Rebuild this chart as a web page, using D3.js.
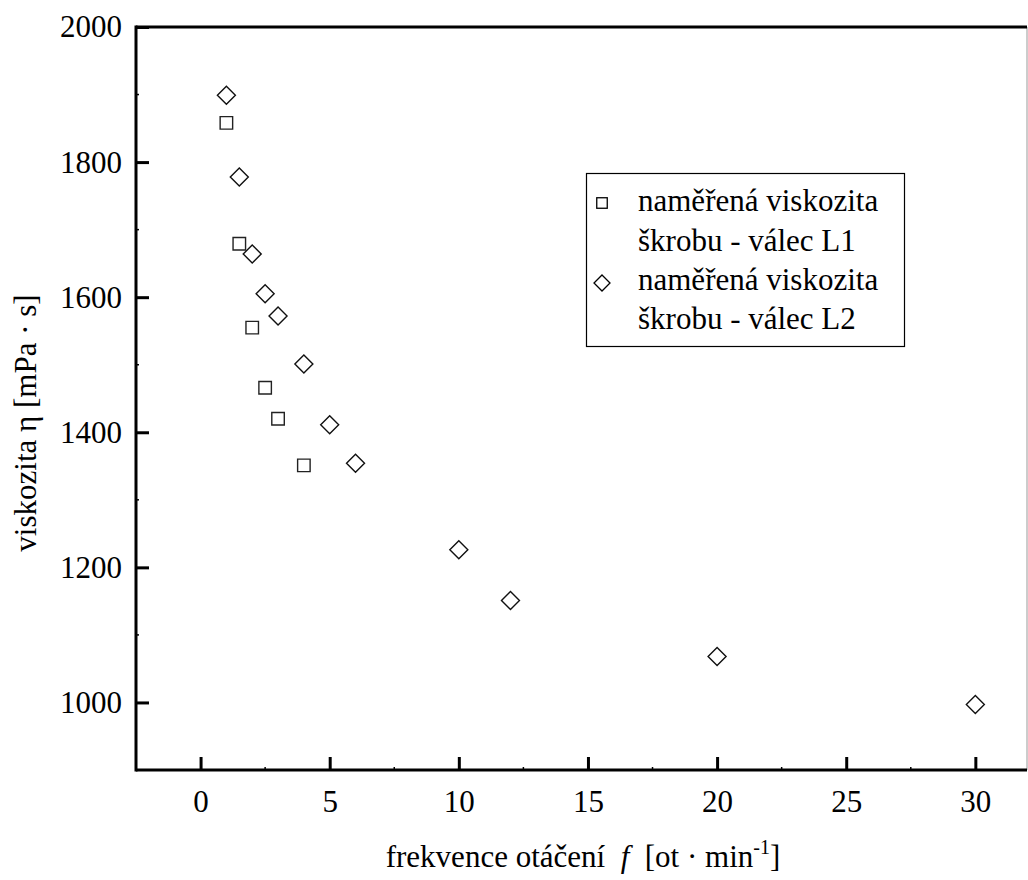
<!DOCTYPE html>
<html><head><meta charset="utf-8">
<script src="https://cdn.jsdelivr.net/npm/d3@7"></script>
<style>body{margin:0;background:#fff}svg{display:block}text{font-family:"Liberation Serif","Times New Roman",serif;fill:#000}</style>
</head><body><svg id="c" width="1028" height="880"></svg>
<script>
const xL1 = [1, 1.5, 2, 2.5, 3, 4];
const yL1 = [1858, 1679, 1555, 1466, 1420, 1351];
const xL2 = [1, 1.5, 2, 2.5, 3, 4, 5, 6, 10, 12, 20, 30];
const yL2 = [1899, 1778, 1664, 1605, 1572, 1501, 1411, 1354, 1226, 1151, 1068, 997];
const xTicks = [0, 5, 10, 15, 20, 25, 30];
const yTicks = [1000, 1200, 1400, 1600, 1800, 2000];
const legendLabels = [["naměřená viskozita", "škrobu - válec L1"], ["naměřená viskozita", "škrobu - válec L2"]];

const svg = d3.select("#c");
const L = 136, R = 1027, T = 27, B = 770;
const x = d3.scaleLinear().domain([-2.5, 32]).range([L, R]);
const y = d3.scaleLinear().domain([900, 2000]).range([B, T]);
const fs = 31;

// minor ticks
const xMinor = d3.range(-2.5, 32, 2.5).filter(v => !xTicks.includes(v));
const yMinor = d3.range(900, 2001, 100).filter(v => !yTicks.includes(v));
svg.append("g").selectAll("line").data(xMinor).join("line")
  .attr("x1", d => x(d)).attr("x2", d => x(d)).attr("y1", B).attr("y2", B - 3)
  .attr("stroke", "#000").attr("stroke-width", 1.5);
svg.append("g").selectAll("line").data(yMinor).join("line")
  .attr("y1", d => y(d)).attr("y2", d => y(d)).attr("x1", L).attr("x2", L + 3)
  .attr("stroke", "#000").attr("stroke-width", 1.5);

// x axis
const gx = svg.append("g").attr("transform", `translate(0,${B})`)
  .call(d3.axisBottom(x).tickValues(xTicks).tickFormat(d3.format("d")).tickSizeInner(-13).tickSizeOuter(0).tickPadding(20));
gx.select(".domain").remove();
gx.selectAll(".tick line").attr("stroke", "#000").attr("stroke-width", 3);
gx.selectAll(".tick text").attr("font-size", fs).attr("fill", "#000");

// y axis
const gy = svg.append("g").attr("transform", `translate(${L},0)`)
  .call(d3.axisLeft(y).tickValues(yTicks).tickFormat(d3.format("d")).tickSizeInner(-13).tickSizeOuter(0).tickPadding(14));
gy.select(".domain").remove();
gy.selectAll(".tick line").attr("stroke", "#000").attr("stroke-width", 3);
gy.selectAll(".tick text").attr("font-size", fs).attr("fill", "#000");

// frame
svg.append("line").attr("x1", R).attr("x2", R).attr("y1", T).attr("y2", B).attr("stroke", "#999").attr("stroke-width", 1);
svg.append("line").attr("x1", L).attr("x2", R).attr("y1", T).attr("y2", T).attr("stroke", "#000").attr("stroke-width", 3);
svg.append("line").attr("x1", L).attr("x2", R).attr("y1", B).attr("y2", B).attr("stroke", "#000").attr("stroke-width", 3);
svg.append("line").attr("x1", L).attr("x2", L).attr("y1", T - 1.5).attr("y2", B + 1.5).attr("stroke", "#000").attr("stroke-width", 3);

const sq = 12.5, dm = 9;
const sqPath = (cx, cy) => `M${cx - sq / 2},${cy - sq / 2}h${sq}v${sq}h${-sq}Z`;
const dmPath = (cx, cy) => `M${cx},${cy - dm}L${cx + dm},${cy}L${cx},${cy + dm}L${cx - dm},${cy}Z`;

svg.append("g").selectAll("path").data(xL1.map((v, i) => [v, yL1[i]])).join("path")
  .attr("d", d => sqPath(x(d[0]), y(d[1]))).attr("fill", "none").attr("stroke", "#222").attr("stroke-width", 1.4);
svg.append("g").selectAll("path").data(xL2.map((v, i) => [v, yL2[i]])).join("path")
  .attr("d", d => dmPath(x(d[0]), y(d[1]))).attr("fill", "none").attr("stroke", "#111").attr("stroke-width", 1.4);

// legend
const lg = svg.append("g");
lg.append("rect").attr("x", 586.5).attr("y", 173.5).attr("width", 318).attr("height", 173)
  .attr("fill", "#fff").attr("stroke", "#000").attr("stroke-width", 1.2);
const lines = [legendLabels[0][0], legendLabels[0][1], legendLabels[1][0], legendLabels[1][1]];
const baselines = [211, 251, 290, 329];
lg.selectAll("text").data(lines).join("text")
  .attr("x", 638).attr("y", (d, i) => baselines[i]).attr("font-size", fs).text(d => d);
const s2 = 10.5;
lg.append("rect").attr("x", 602 - s2 / 2).attr("y", 203 - s2 / 2).attr("width", s2).attr("height", s2)
  .attr("fill", "none").attr("stroke", "#000").attr("stroke-width", 1.3);
lg.append("path").attr("d", `M602,275L610,283L602,291L594,283Z`).attr("fill", "none").attr("stroke", "#000").attr("stroke-width", 1.3);

// y label
svg.append("text").attr("transform", "translate(36,423) rotate(-90)").attr("text-anchor", "middle")
  .attr("font-size", fs).text("viskozita η [mPa · s]");

// x label
const xt = svg.append("text").attr("x", 583).attr("y", 867).attr("text-anchor", "middle").attr("font-size", fs)
  .attr("xml:space", "preserve").style("white-space", "pre");
xt.append("tspan").text("frekvence otáčení  ");
xt.append("tspan").attr("font-style", "italic").text("f");
xt.append("tspan").text("  [ot · min");
xt.append("tspan").attr("dy", -13).attr("font-size", 20).text("-1");
xt.append("tspan").attr("dy", 13).text("]");
</script></body></html>
